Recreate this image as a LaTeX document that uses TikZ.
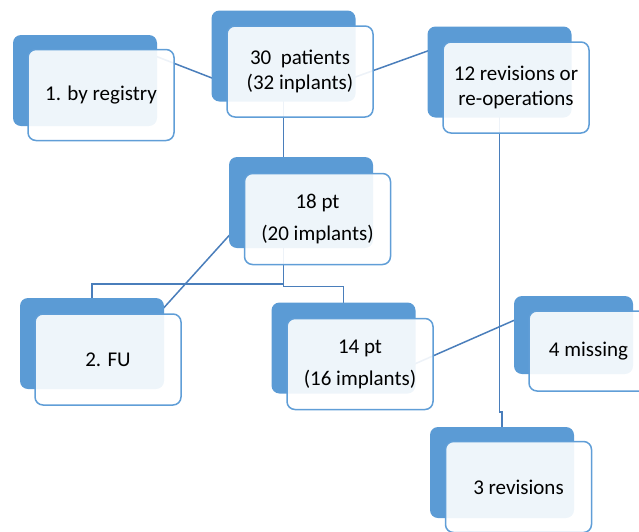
\documentclass[tikz,border=0pt]{standalone}
\usepackage{fontspec}
\setmainfont{Carlito}
\usetikzlibrary{calc}
\definecolor{boxblue}{RGB}{91,155,213}
\definecolor{edgeblue}{RGB}{96,158,215}
\definecolor{linkblue}{RGB}{74,126,187}
\pgfdeclarelayer{bg}
\pgfsetlayers{bg,main}
\tikzset{
  back/.style={fill=boxblue, draw=none, rounded corners=8pt, minimum width=144pt, minimum height=91pt, inner sep=0pt},
  front/.style={fill=white, fill opacity=0.9, text opacity=1, draw=edgeblue, line width=1.5pt, rounded corners=8pt, minimum width=146pt, minimum height=91pt, inner sep=0pt, align=center, font=\fontsize{21}{25}\selectfont},
  link/.style={draw=linkblue, line width=1.5pt}
}
\begin{document}
\begin{tikzpicture}[x=1pt,y=-1pt]
\useasboundingbox (0,0) rectangle (639,531);
\clip (0,0) rectangle (639,531);
% back boxes
\node[back] (reg-b)   at (85,80.5) {};
\node[back] (pat-b)   at (283.5,56) {};
\node[back] (rev12-b) at (499.5,72) {};
\node[back] (pt18-b)  at (301,202.5) {};
\node[back] (fu-b)    at (92,343.5) {};
\node[back] (pt14-b)  at (343.5,348) {};
\node[back, minimum width=119pt, minimum height=78pt] (miss-b) at (573.5,335) {};
\node[back] (rev3-b)  at (502,472.5) {};
% front boxes
\node[front] (reg)   at (101,95) {1. by registry};
\node[front] (pat)   at (300,71.5) {30~~patients\\(32 inplants)};
\node[front] (rev12) at (516,87.5) {12 revisions or\\re-operations};
\node[front] (pt18)  at (317.5,219) {18 pt\\[7pt](20 implants)};
\node[front] (fu)    at (108,359.5) {2. FU};
\node[front] (pt14)  at (360,364) {14 pt\\[7pt](16 implants)};
\node[front, minimum width=119pt, minimum height=80pt] (miss) at (588.5,351) {4 missing};
\node[front] (rev3)  at (518.5,487) {3 revisions};
% connectors
\begin{pgfonlayer}{bg}
\draw[link] ($(reg-b.north east)+(-5,20)$) -- ($(pat-b.south west)+(5,-22)$);
\draw[link] ($(pat-b.south east)+(-5,-23)$) -- ($(rev12-b.north west)+(5,23)$);
\draw[link] (pat-b.center) -- (pat-b.south |- pt18-b.center);
\draw[link] (pat-b.south |- pt18-b.center) |- ($(fu-b.north)+(0,-14)$) -- (fu-b.center);
\draw[link] (pat-b.south |- pt18-b.center) |- ($(pt14-b.north)+(0,-16)$) -- (pt14-b.center);
\draw[link] ($(pt18-b.south west)+(6,-19)$) -- ($(fu-b.north east)+(-4,14)$);
\draw[link] ($(pt14-b.south east)+(-5,-28)$) -- ($(miss-b.north west)+(6,22)$);
\draw[link] (rev12-b.center) -- ($(rev12-b.center |- rev3-b.north)+(0,-15)$) -- ($(rev3-b.north)+(0,-15)$) -- (rev3-b.center);
\end{pgfonlayer}
\end{tikzpicture}
\end{document}
